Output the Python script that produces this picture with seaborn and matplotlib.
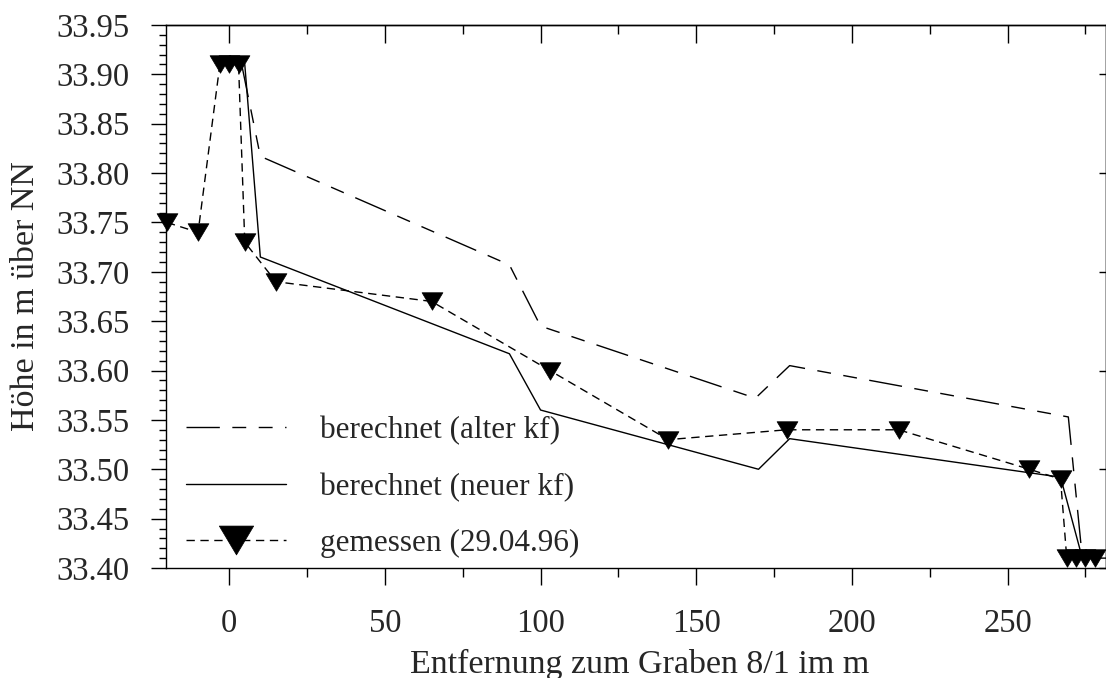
import numpy as np
import pandas as pd
import matplotlib
matplotlib.use("Agg")
import matplotlib.pyplot as plt
import seaborn as sns
from matplotlib.path import Path

# ---- data ----
alt_x = [4, 10, 90, 100, 169, 180, 269.5, 274, 282]
alt_y = [33.91, 33.817, 33.707, 33.645, 33.572, 33.605, 33.553, 33.41, 33.41]

neu_x = [5, 10, 90, 100, 170, 180, 267, 274, 282]
neu_y = [33.91, 33.715, 33.617, 33.56, 33.50, 33.531, 33.492, 33.41, 33.41]

mess_x = [-20, -10, -3, 0, 3, 5, 15, 65, 103, 141, 179, 215, 257, 267, 269, 272, 275, 278]
mess_y = [33.75, 33.74, 33.91, 33.91, 33.91, 33.73, 33.69, 33.67, 33.60, 33.53,
          33.54, 33.54, 33.50, 33.49, 33.41, 33.41, 33.41, 33.41]

labels = ["berechnet (alter kf)", "berechnet (neuer kf)", "gemessen (29.04.96)"]
x_major = [0, 50, 100, 150, 200, 250]
x_minor = [25, 75, 125, 175, 225, 275]
y_major = [33.40, 33.45, 33.50, 33.55, 33.60, 33.65, 33.70, 33.75, 33.80, 33.85, 33.90, 33.95]
y_right = [33.40, 33.50, 33.60, 33.70, 33.80, 33.90]

sns.set_style("white")
plt.rcParams['font.family'] = ['Liberation Serif', 'DejaVu Serif']

W, H = 1106, 678
fig = plt.figure(figsize=(W / 100, H / 100), dpi=100)
L, R, T, B = 166, 1106, 25, 568
ax = fig.add_axes([L / W, 1 - B / H, (R - L) / W, (B - T) / H])

df_alt = pd.DataFrame({"x": alt_x, "y": alt_y})
df_neu = pd.DataFrame({"x": neu_x, "y": neu_y})
df_mess = pd.DataFrame({"x": mess_x, "y": mess_y})

sns.lineplot(data=df_alt, x="x", y="y", ax=ax, sort=False, estimator=None,
             color="black", lw=1.0, label=labels[0])
l_alt = ax.lines[-1]
l_alt.set_dashes((24, 9, 10, 9, 10, 9))

sns.lineplot(data=df_neu, x="x", y="y", ax=ax, sort=False, estimator=None,
             color="black", lw=1.0, label=labels[1])

sns.lineplot(data=df_mess, x="x", y="y", ax=ax, sort=False, estimator=None,
             color="black", lw=1.0, label=labels[2])
l_mess = ax.lines[-1]
l_mess.set_dashes((6, 4))
tri = Path([(-1, 0.84), (1, 0.84), (0, -0.84), (-1, 0.84)],
           [Path.MOVETO, Path.LINETO, Path.LINETO, Path.CLOSEPOLY])
l_mess.set_marker(tri)
l_mess.set_markersize(15)
l_mess.set_markerfacecolor("black")
l_mess.set_markeredgecolor("black")
l_mess.set_markeredgewidth(0.5)
l_mess.set_clip_on(False)

ax.set_xlim(-20.3, 281.6)
ax.set_ylim(33.40, 33.95)

fs_tick = 23.5
fs_lab = 24.5
fs_leg = 22.5
ax.set_xticks(x_major)
ax.set_xticks(x_minor, minor=True)
ax.set_yticks(y_major)
ax.set_yticks(np.round(np.arange(33.40, 33.951, 0.01), 2), minor=True)
ax.set_xticklabels([str(v) for v in x_major])
ax.set_yticklabels([f"{v:.2f}" for v in y_major])
ax.tick_params(axis="x", which="major", direction="out", length=12, width=1,
               pad=17, labelsize=fs_tick, bottom=True, top=False, color="black")
ax.tick_params(axis="x", which="minor", direction="out", length=6.5, width=1,
               bottom=True, top=False, color="black")
ax.tick_params(axis="y", which="major", direction="out", length=11, width=1,
               pad=15, labelsize=fs_tick, left=True, right=False, color="black")
ax.tick_params(axis="y", which="minor", direction="out", length=5, width=1,
               left=True, right=False, color="black")

sec_top = ax.secondary_xaxis("top")
sec_top.set_xticks(x_major)
sec_top.set_xticks(x_minor, minor=True)
sec_top.tick_params(axis="x", which="major", direction="in", length=13, width=1,
                    labeltop=False, color="black")
sec_top.tick_params(axis="x", which="minor", direction="in", length=6.5, width=1,
                    labeltop=False, color="black")

sec_right = ax.secondary_yaxis("right")
sec_right.set_yticks(y_right)
sec_right.tick_params(axis="y", which="major", direction="in", length=5, width=1,
                      labelright=False, color="black")
sec_right.tick_params(axis="y", which="minor", right=False)

for s in list(ax.spines.values()) + [sec_top.spines["top"], sec_right.spines["right"]]:
    s.set_color("black")
    s.set_linewidth(1.0)

ax.set_xlabel("Entfernung zum Graben 8/1 im m", fontsize=fs_lab, va="center")
ax.xaxis.set_label_coords((640 - L) / (R - L), (B - 664) / (B - T))
ax.set_ylabel("Höhe in m über NN", fontsize=fs_lab, va="center")
ax.yaxis.set_label_coords((26 - L) / (R - L), 0.5)

handles, labs = ax.get_legend_handles_labels()
leg = ax.legend(handles, labs, loc="upper left", frameon=False, fontsize=fs_leg,
                handlelength=3.2, handletextpad=1.09, labelspacing=0.87,
                markerscale=1.65, numpoints=1, borderaxespad=0, borderpad=0,
                bbox_to_anchor=((186 - L) / (R - L), (B - 416) / (B - T)))

fig.savefig("out.png", dpi=100)
